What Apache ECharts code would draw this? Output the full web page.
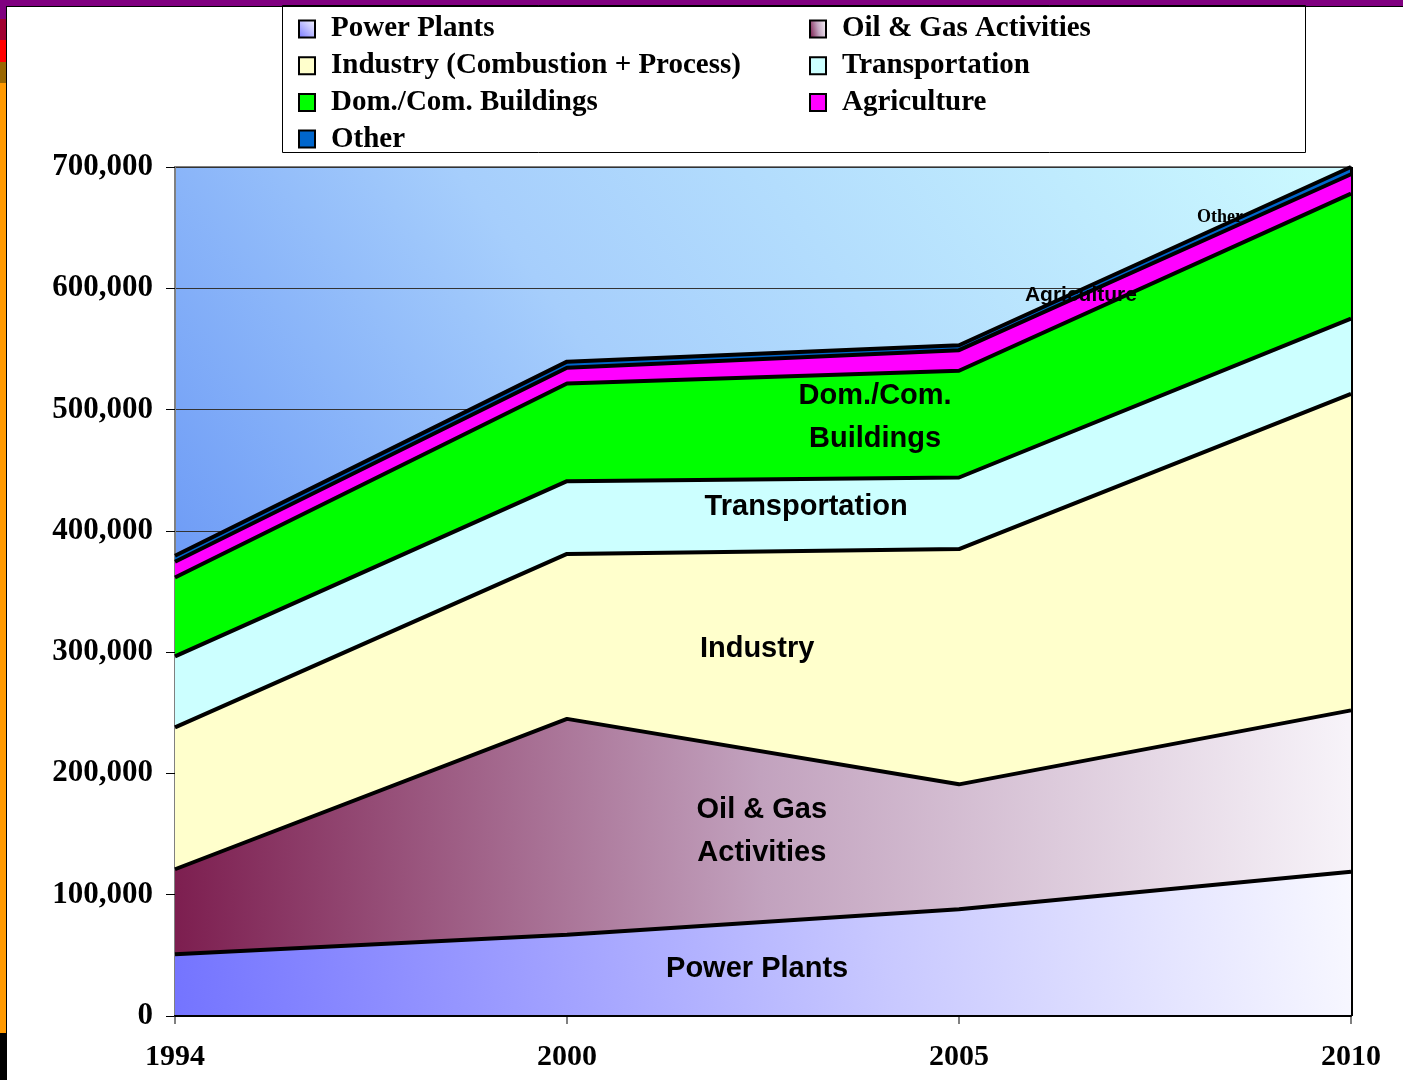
<!DOCTYPE html>
<html>
<head>
<meta charset="utf-8">
<script src="https://cdn.jsdelivr.net/npm/echarts@6/dist/echarts.min.js"></script>
<style>
  html, body { margin: 0; padding: 0; background: #fff; }
  #chart { width: 1403px; height: 1080px; }
</style>
</head>
<body>
<div id="chart"></div>
<script>
// emissions by source, stacked
const years = ["1994", "2000", "2005", "2010"]
const powerPlants = [51000, 67000, 88000, 119000]
const oilGas = [70000, 178000, 103000, 133000]
const industry = [117000, 136000, 194000, 261000]
const transportation = [58500, 60000, 59000, 62000]
const domCom = [65000, 80500, 88000, 103000]
const agriculture = [13000, 13000, 17000, 16000]
const other = [5000, 5000, 4000, 6000]

// in-chart labels: [x position 0..3 along the years, value]
const areaLabels = [
  { text: "Power Plants", at: [1.485, 38800] },
  { text: "Oil & Gas\nActivities", at: [1.497, 151800] },
  { text: "Industry", at: [1.485, 302700] },
  { text: "Transportation", at: [1.61, 419800] },
  { text: "Dom./Com.\nBuildings", at: [1.786, 493200] },
  { text: "Agriculture", at: [2.311, 593900], size: 21 },
  { text: "Other", at: [2.666, 658200], size: 18, serif: true }
]

const chart = echarts.init(document.getElementById("chart"), null, { renderer: "canvas" })
const G = echarts.graphic.LinearGradient

const layers = [
  { name: "Power Plants", data: powerPlants, fill: new G(0, 1, 1, 0, [{ offset: 0, color: "#7474ff" }, { offset: 0.6, color: "#c8c8ff" }, { offset: 1, color: "#f8f8ff" }]) },
  { name: "Oil & Gas Activities", data: oilGas, fill: new G(0, 0.6, 1, 0.4, [{ offset: 0, color: "#7d1f50" }, { offset: 0.5, color: "#c2a2be" }, { offset: 1, color: "#f7f3f9" }]) },
  { name: "Industry (Combustion + Process)", data: industry, fill: "#ffffcc" },
  { name: "Transportation", data: transportation, fill: "#ccffff" },
  { name: "Dom./Com. Buildings", data: domCom, fill: "#00ff00" },
  { name: "Agriculture", data: agriculture, fill: "#ff00ff" },
  { name: "Other", data: other, fill: "#0066cc" }
]

const series = layers.map((l, i) => ({
  name: l.name,
  type: "line",
  stack: "total",
  data: l.data,
  symbol: "none",
  z: 10 - i,
  itemStyle: { color: l.fill },
  lineStyle: { color: "#000", width: 4 },
  areaStyle: { color: l.fill, opacity: 1 },
  emphasis: { disabled: true }
}))

series[series.length - 1].markLine = {
  silent: true,
  symbol: "none",
  label: { show: false },
  lineStyle: { color: "#000", width: 3, type: "solid" },
  data: [{ xAxis: "2010" }]
}

series.push({
  type: "scatter",
  xAxisIndex: 1,
  symbolSize: 0,
  silent: true,
  z: 30,
  itemStyle: { opacity: 1 },
  data: areaLabels.map(a => {
    const d = { value: a.at, name: a.text }
    if (a.size) d.label = { fontSize: a.size }
    if (a.serif) d.label.fontFamily = "Liberation Serif, Times New Roman"
    return d
  }),
  label: {
    show: true,
    position: "inside",
    formatter: p => p.name,
    color: "#000",
    opacity: 1,
    fontFamily: "Liberation Sans, Arial",
    fontWeight: "bold",
    fontSize: 29,
    lineHeight: 43
  }
})

const legendBase = {
  orient: "vertical",
  top: 14,
  padding: 0,
  icon: "rect",
  itemWidth: 16,
  itemHeight: 17,
  itemGap: 6.7,
  selectedMode: false,
  itemStyle: { borderColor: "#000", borderWidth: 2 },
  textStyle: {
    fontFamily: "Liberation Serif, Times New Roman",
    fontWeight: "bold",
    fontSize: 29,
    color: "#000",
    lineHeight: 30,
    padding: [0, 0, 0, 11]
  }
}

chart.setOption({
  animation: false,
  backgroundColor: "#fff",
  grid: {
    left: 175, right: 52, top: 167, bottom: 64,
    show: true,
    borderColor: "#808080",
    borderWidth: 2,
    backgroundColor: new G(0, 1, 1, 0, [
      { offset: 0, color: "#4d7ef2" },
      { offset: 0.5, color: "#a6cefc" },
      { offset: 1, color: "#ccfaff" }
    ])
  },
  legend: [
    Object.assign({}, legendBase, { left: 298, data: ["Power Plants", "Industry (Combustion + Process)", "Dom./Com. Buildings", "Other"] }),
    Object.assign({}, legendBase, { left: 809, data: ["Oil & Gas Activities", "Transportation", "Agriculture"] })
  ],
  xAxis: [
    {
      type: "category",
      data: years,
      boundaryGap: false,
      axisLine: { lineStyle: { color: "#000", width: 2 } },
      axisTick: { show: true, length: 8, lineStyle: { color: "#808080", width: 2 } },
      axisLabel: {
        margin: 26,
        color: "#000",
        fontFamily: "Liberation Serif, Times New Roman",
        fontWeight: "bold",
        fontSize: 30
      },
      splitLine: { show: false }
    },
    {
      type: "value",
      min: 0,
      max: 3,
      position: "bottom",
      z: 20,
      axisLine: { show: true, onZero: false, lineStyle: { color: "#000", width: 2 } },
      axisTick: { show: false },
      axisLabel: { show: false },
      splitLine: { show: false }
    }
  ],
  yAxis: {
    type: "value",
    min: 0,
    max: 700000,
    interval: 100000,
    axisLine: { show: true, lineStyle: { color: "#808080", width: 2 } },
    axisTick: { show: true, length: 9, lineStyle: { color: "#000", width: 1 } },
    axisLabel: {
      margin: 22,
      color: "#000",
      fontFamily: "Liberation Serif, Times New Roman",
      fontWeight: "bold",
      fontSize: 31,
      formatter: v => v.toLocaleString("en-US")
    },
    splitLine: { lineStyle: { color: "#333", width: 1 } }
  },
  graphic: [
    // slide frame
    { type: "rect", shape: { x: 0, y: 0, width: 1403, height: 6 }, style: { fill: "#800080" }, silent: true },
    { type: "rect", shape: { x: 0, y: 6, width: 1403, height: 1 }, style: { fill: "#000" }, silent: true },
    { type: "rect", shape: { x: 0, y: 6, width: 6, height: 13 }, style: { fill: "#800080" }, silent: true },
    { type: "rect", shape: { x: 0, y: 19, width: 6, height: 21 }, style: { fill: "#a00030" }, silent: true },
    { type: "rect", shape: { x: 0, y: 40, width: 6, height: 22 }, style: { fill: "#ff0000" }, silent: true },
    { type: "rect", shape: { x: 0, y: 62, width: 6, height: 21 }, style: { fill: "#996600" }, silent: true },
    { type: "rect", shape: { x: 0, y: 83, width: 6, height: 950 }, style: { fill: "#ff9900" }, silent: true },
    { type: "rect", shape: { x: 0, y: 1033, width: 6, height: 47 }, style: { fill: "#000" }, silent: true },
    { type: "rect", shape: { x: 6, y: 6, width: 1, height: 1074 }, style: { fill: "#000" }, silent: true },
    // legend box
    { type: "rect", shape: { x: 282.5, y: 5.5, width: 1023, height: 147 }, style: { fill: "none", stroke: "#000", lineWidth: 1 }, silent: true }
  ],
  series
})
</script>
</body>
</html>
